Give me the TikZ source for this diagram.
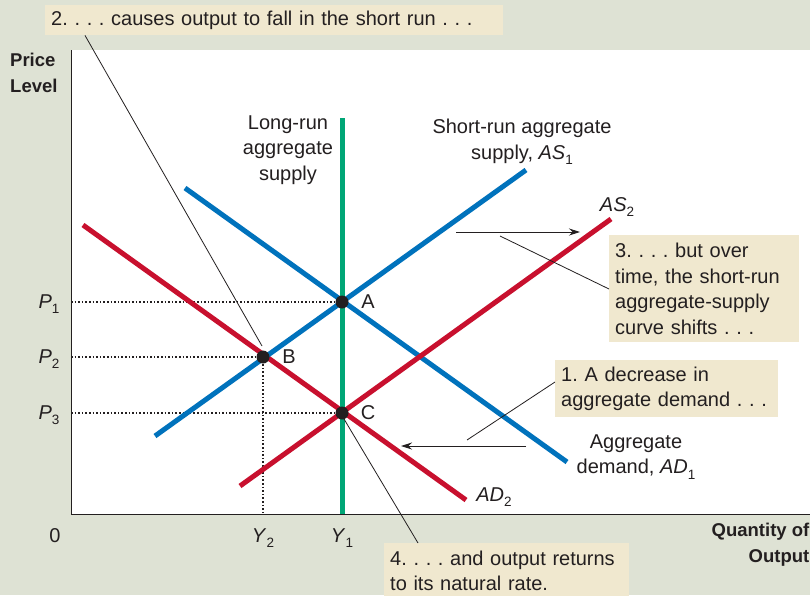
\documentclass[tikz,border=0pt]{standalone}
\usepackage{fontspec}
\setmainfont{Liberation Sans}
\usetikzlibrary{arrows.meta,calc}
\definecolor{bgc}{RGB}{222,226,212}
\definecolor{boxc}{RGB}{240,232,207}
\definecolor{bluec}{RGB}{0,114,188}
\definecolor{redc}{RGB}{200,16,46}
\definecolor{greenc}{RGB}{0,166,118}
\definecolor{inkc}{RGB}{35,31,32}
\newcommand\lsub[1]{\raisebox{-0.28em}{\fontsize{13.5}{13.5}\selectfont #1}}
\frenchspacing
\begin{document}
\begin{tikzpicture}[x=1pt,y=-1pt,
  txt/.style={text=inkc,font=\fontsize{20}{25.5}\selectfont,inner sep=0pt},
  bold/.style={text=inkc,font=\fontsize{18.5}{26}\selectfont\bfseries,inner sep=0pt},
  callout/.style={fill=boxc,text=inkc,font=\fontsize{20}{25.5}\selectfont,align=left,inner xsep=6pt,inner ysep=0pt,anchor=north west},
  curveb/.style={draw=bluec,line width=5pt},
  curver/.style={draw=redc,line width=5pt},
  curveg/.style={draw=greenc,line width=5pt},
  guide/.style={draw=inkc,line width=1.6pt,dotted},
  leader/.style={draw=inkc,line width=0.8pt},
  shiftarrow/.style={draw=inkc,line width=0.9pt,-{Stealth[length=11pt,width=7pt]}},
  dot/.style={circle,fill=inkc,inner sep=0pt,minimum size=13pt}]
\fill[bgc] (0,0) rectangle (810,595);
\useasboundingbox (0,0) rectangle (810,595);
\fill[white] (71,50) rectangle (810,514);
\coordinate (O) at (71,514);
\coordinate (ytop) at (71,50);
\coordinate (xend) at (810,514);
\draw[inkc,line width=1pt] (ytop) -- (O) -- (xend);

% curve end points
\coordinate (lr1) at (342,118); \coordinate (lr2) at (342,514);
\coordinate (as1a) at (155,436); \coordinate (as1b) at (526,170);
\coordinate (ad1a) at (185,188); \coordinate (ad1b) at (567,462);
\coordinate (ad2a) at (83,225);  \coordinate (ad2b) at (466,500);
\coordinate (as2a) at (240,486); \coordinate (as2b) at (611,219);

% intersection points
\coordinate (A) at (342,302);
\coordinate (B) at (263,357);
\coordinate (C) at (342,413);
\coordinate (p1) at (71,302);
\coordinate (p2) at (71,357);
\coordinate (p3) at (71,413);
\coordinate (y2) at (263,514);

\draw[guide] (p1) -- (A);
\draw[guide] (p2) -- (B);
\draw[guide] (p3) -- (C);
\draw[guide] (B) -- (y2);

\draw[curveb] (ad1a) -- (ad1b);
\draw[curver] (ad2a) -- (ad2b);
\draw[curver] (as2a) -- (as2b);
\draw[curveb] (as1a) -- (as1b);
\draw[curveg] (lr1) -- (lr2);

\node[dot] (nA) at (A) {};
\node[dot] (nB) at (B) {};
\node[dot] (nC) at (C) {};
\node[txt] (lA) at (368,302) {A};
\node[txt] (lB) at (289,357) {B};
\node[txt] (lC) at (368,413) {C};

% axis labels
\node[txt] (P1) at (49,304) {\textit{P}\lsub{1}};
\node[txt] (P2) at (49,359) {\textit{P}\lsub{2}};
\node[txt] (P3) at (49,415) {\textit{P}\lsub{3}};
\node[txt] (zero) at (55,536) {0};
\node[txt] (Y2) at (263,538) {\textit{Y}\lsub{2}};
\node[txt] (Y1) at (342,538) {\textit{Y}\lsub{1}};
\node[bold,align=left,anchor=west] (plab) at (10,73) {Price\\Level};
\node[bold,align=right,anchor=east] (qlab) at (809.5,545) {Quantity of\\Output};

% curve labels
\node[txt,align=center] (lrlab) at (288,150) {Long-run\\aggregate\\supply};
\node[txt,align=center] (as1lab) at (522,142) {Short-run aggregate\\supply, \textit{AS}\lsub{1}};
\node[txt] (as2lab) at (617,207) {\textit{AS}\lsub{2}};
\node[txt,align=center] (ad1lab) at (636,457) {Aggregate\\demand, \textit{AD}\lsub{1}};
\node[txt] (ad2lab) at (494,497) {\textit{AD}\lsub{2}};

% callouts
\node[callout,minimum width=458pt,minimum height=30pt,text width=446pt] (c2) at (45,5) {2. . . . causes output to fall in the short run . . .};
\node[callout,minimum width=190pt,minimum height=107pt,text width=178pt] (c3) at (609,235) {3. . . . but over\\time, the short-run\\aggregate-supply\\curve shifts . . .};
\node[callout,minimum width=223pt,minimum height=57pt,text width=211pt] (c1) at (555,360) {1. A decrease in\\aggregate demand . . .};
\node[callout,minimum width=245pt,minimum height=55pt,text width=233pt] (c4) at (384,543) {4. . . . and output returns\\to its natural rate.};

% leader lines
\coordinate (t2) at (262,346);
\coordinate (t3) at (500,236);
\coordinate (t1) at (467,440);
\coordinate (t4) at (344,419);
\draw[leader] ($(c2.south west)+(40,0)$) -- (t2);
\draw[leader] ($(c3.north west)+(0,54)$) -- (t3);
\draw[leader] ($(c1.north west)+(0,22)$) -- (t1);
\draw[leader] ($(c4.north west)+(34,0)$) -- (t4);

% shift arrows
\coordinate (sa1) at (456,232); \coordinate (sa2) at (580,232);
\coordinate (sd1) at (526,446); \coordinate (sd2) at (401,446);
\draw[shiftarrow] (sa1) -- (sa2);
\draw[shiftarrow] (sd1) -- (sd2);
\end{tikzpicture}
\end{document}
